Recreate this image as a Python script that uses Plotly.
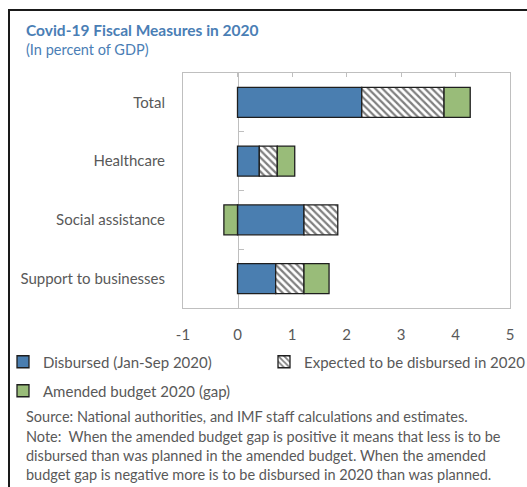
import plotly.graph_objects as go

# Covid-19 fiscal measures, percent of GDP
categories = ["Total", "Healthcare", "Social assistance", "Support to businesses"]
disbursed = [2.28, 0.40, 1.22, 0.70]
expected = [1.51, 0.33, 0.62, 0.52]
amended_gap = [0.48, 0.32, -0.25, 0.46]
x_ticks = [-1, 0, 1, 2, 3, 4, 5]
x_tick_text = ["-1", "0", "1", "2", "3", "4", "5"]

W, H = 527, 487
M_L, M_R, M_T, M_B = 183, 17, 73, 179
PW, PH = W - M_L - M_R, H - M_T - M_B

def px(x):
    return (x - M_L) / PW

def py(y):
    return (H - M_B - y) / PH

BLUE = "#4a7eb0"
GREEN = "#99bc79"
TXT = "#595959"
AX = "#bfbfbf"
FONT = "Lato"
edge = dict(color="#1e1e1e", width=1.3)

fig = go.Figure()
fig.add_trace(go.Bar(
    y=categories, x=disbursed, orientation="h", name="Disbursed (Jan-Sep 2020)",
    marker=dict(color=BLUE, line=edge), legend="legend",
))
fig.add_trace(go.Bar(
    y=categories, x=expected, orientation="h", name="Expected to be disbursed in 2020",
    marker=dict(color="white", line=edge,
                pattern=dict(shape="\\", fgcolor="black", bgcolor="white", size=5, solidity=0.45)),
    legend="legend2",
))
fig.add_trace(go.Bar(
    y=categories, x=amended_gap, orientation="h", name="Amended budget 2020 (gap)",
    marker=dict(color=GREEN, line=edge), legend="legend3",
))
# helper trace so the overlay axes (zero axis, top ticks) are drawn
fig.add_trace(go.Scatter(x=[None], y=[None], xaxis="x2", yaxis="y2",
                         showlegend=False, hoverinfo="skip"))

n = len(categories)
leg_common = dict(orientation="h", xanchor="left", yanchor="middle", itemwidth=30,
                  font=dict(family=FONT, size=15, color=TXT), bgcolor="rgba(0,0,0,0)")
fig.update_layout(
    width=W, height=H,
    margin=dict(l=M_L, r=M_R, t=M_T, b=M_B, autoexpand=False),
    paper_bgcolor="white", plot_bgcolor="white",
    barmode="relative", bargap=0.49,
    font=dict(family=FONT, size=14, color=TXT),
    xaxis=dict(range=[-1, 5], tickvals=x_ticks, ticktext=x_tick_text, ticks="",
               showgrid=False, zeroline=False,
               showline=True, mirror=True, linecolor=AX, linewidth=1,
               tickfont=dict(size=15, color=TXT), ticklabelstandoff=13, fixedrange=True),
    yaxis=dict(type="category", categoryorder="array", categoryarray=categories,
               range=[n - 0.5, -0.5], ticks="", showgrid=False, zeroline=False,
               showline=True, mirror=True, linecolor=AX, linewidth=1,
               tickfont=dict(size=15, color=TXT), ticklabelstandoff=14),
    xaxis2=dict(overlaying="x", side="top", anchor="y2", range=[-1, 5],
                tickvals=x_ticks[1:-1], ticks="inside", ticklen=4, tickcolor=AX,
                showticklabels=False, showgrid=False, zeroline=False, showline=False),
    yaxis2=dict(overlaying="y", anchor="free", position=1 / 6, side="right",
                range=[n - 0.5, -0.5], tickvals=[i + 0.5 for i in range(n - 1)],
                ticks="outside", ticklen=5, tickcolor=AX, showticklabels=False,
                showgrid=False, zeroline=False, showline=True, linecolor=AX, linewidth=1,
                layer="below traces"),
    legend=dict(x=px(3), y=py(362), **leg_common),
    legend2=dict(x=px(264), y=py(362), **leg_common),
    legend3=dict(x=px(3), y=py(391), **leg_common),
    showlegend=True,
)

# outer frame (left and top edges)
frame = dict(color="#1a1a1a", width=2)
fig.add_shape(type="line", xref="paper", yref="paper", x0=px(9), x1=px(9),
              y0=py(10), y1=py(H + 10), line=frame)
fig.add_shape(type="line", xref="paper", yref="paper", x0=px(8), x1=px(W + 10),
              y0=py(10), y1=py(10), line=frame)

TITLE_BLUE = "#4a7eb5"
fig.add_annotation(text="<b>Covid-19 Fiscal Measures in 2020</b>", xref="paper", yref="paper",
                   x=px(24), y=py(30), xanchor="left", yanchor="middle", showarrow=False,
                   font=dict(family=FONT, size=15.5, color=TITLE_BLUE))
fig.add_annotation(text="(In percent of GDP)", xref="paper", yref="paper",
                   x=px(24), y=py(50), xanchor="left", yanchor="middle", showarrow=False,
                   font=dict(family=FONT, size=14.5, color=TITLE_BLUE))

notes = [
    ("Source: National authorities, and IMF staff calculations and estimates.", 416),
    ("Note:&nbsp; When the amended budget gap is positive it means that less is to be", 436),
    ("disbursed than was planned in the amended budget. When the amended", 455),
    ("budget gap is negative more is to be disbursed in 2020 than was planned.", 474),
]
for text, yy in notes:
    fig.add_annotation(text=text, xref="paper", yref="paper", x=px(24), y=py(yy),
                       xanchor="left", yanchor="middle", showarrow=False,
                       font=dict(family=FONT, size=14.5, color=TXT))

fig.write_html("out.html")
